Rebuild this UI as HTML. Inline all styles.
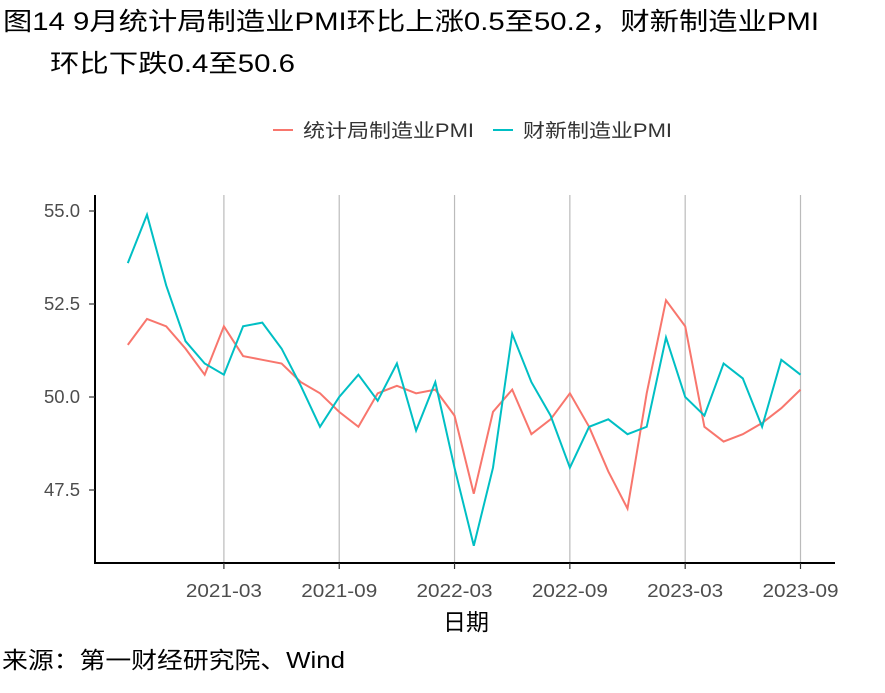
<!DOCTYPE html>
<html><head><meta charset="utf-8"><style>
body{margin:0;background:#fff;width:885px;height:688px;overflow:hidden;font-family:"Liberation Sans","Noto Sans CJK SC",sans-serif}
</style></head><body>
<svg id="s" width="885" height="688" xmlns="http://www.w3.org/2000/svg" font-family="Liberation Sans, Noto Sans CJK SC, sans-serif">
<text x="3" y="30" font-size="25" fill="#000" textLength="816" lengthAdjust="spacingAndGlyphs">图14 9月统计局制造业PMI环比上涨0.5至50.2，财新制造业PMI</text>
<text x="50" y="72" font-size="25" fill="#000" textLength="245" lengthAdjust="spacingAndGlyphs">环比下跌0.4至50.6</text>
<line x1="273" y1="130" x2="293" y2="130" stroke="#F8766D" stroke-width="2"/>
<text x="303" y="137" font-size="19" fill="#333" textLength="171" lengthAdjust="spacingAndGlyphs">统计局制造业PMI</text>
<line x1="493" y1="130" x2="513" y2="130" stroke="#00BFC4" stroke-width="2"/>
<text x="523" y="137" font-size="19" fill="#333" textLength="149" lengthAdjust="spacingAndGlyphs">财新制造业PMI</text>
<g id="grid" stroke="#bbb" stroke-width="1.2"></g>
<line x1="95" y1="195" x2="95" y2="564" stroke="#000" stroke-width="2"/>
<line x1="94" y1="563" x2="835" y2="563" stroke="#000" stroke-width="2"/>
<g id="yt" font-size="18" fill="#4d4d4d" text-anchor="end"></g>
<g id="xt" font-size="18" fill="#4d4d4d" text-anchor="middle"></g>
<polyline id="a" fill="none" stroke="#F8766D" stroke-width="2"/>
<polyline id="b" fill="none" stroke="#00BFC4" stroke-width="2"/>
<text x="466" y="630" font-size="23" text-anchor="middle" fill="#000">日期</text>
<text x="2" y="668" font-size="23" fill="#000" textLength="343" lengthAdjust="spacingAndGlyphs">来源：第一财经研究院、Wind</text>
</svg>
<script>
var ns="http://www.w3.org/2000/svg";
function X(i){return 127.8+i*19.22}
function Y(v){return 397-(v-50)*37.2}
var A=[51.4,52.1,51.9,51.3,50.6,51.9,51.1,51.0,50.9,50.4,50.1,49.6,49.2,50.1,50.3,50.1,50.2,49.5,47.4,49.6,50.2,49.0,49.4,50.1,49.2,48.0,47.0,50.1,52.6,51.9,49.2,48.8,49.0,49.3,49.7,50.2];
var B=[53.6,54.9,53.0,51.5,50.9,50.6,51.9,52.0,51.3,50.3,49.2,50.0,50.6,49.9,50.9,49.1,50.4,48.1,46.0,48.1,51.7,50.4,49.5,48.1,49.2,49.4,49.0,49.2,51.6,50.0,49.5,50.9,50.5,49.2,51.0,50.6];
function pts(d){return d.map(function(v,i){return X(i).toFixed(1)+","+Y(v).toFixed(1)}).join(" ")}
document.getElementById("a").setAttribute("points",pts(A));
document.getElementById("b").setAttribute("points",pts(B));
function el(t,at,p,txt){var e=document.createElementNS(ns,t);for(var k in at)e.setAttribute(k,at[k]);if(txt)e.textContent=txt;p.appendChild(e)}
var g=document.getElementById("grid"),xt=document.getElementById("xt"),yt=document.getElementById("yt");
var labs=["2021-03","2021-09","2022-03","2022-09","2023-03","2023-09"];
labs.forEach(function(l,k){var x=X(5+6*k);el("line",{x1:x,x2:x,y1:195,y2:563},g);
el("line",{x1:x,x2:x,y1:563,y2:569,stroke:"#333","stroke-width":1.2},xt);
el("text",{x:x,y:597,textLength:76,lengthAdjust:"spacingAndGlyphs"},xt,l)});
[55,52.5,50,47.5].forEach(function(v){var y=Y(v);el("text",{x:80,y:y+6,textLength:36,lengthAdjust:"spacingAndGlyphs"},yt,v.toFixed(1));
el("line",{x1:89,x2:95,y1:y,y2:y,stroke:"#333","stroke-width":1.2},yt)});
</script>
</body></html>
